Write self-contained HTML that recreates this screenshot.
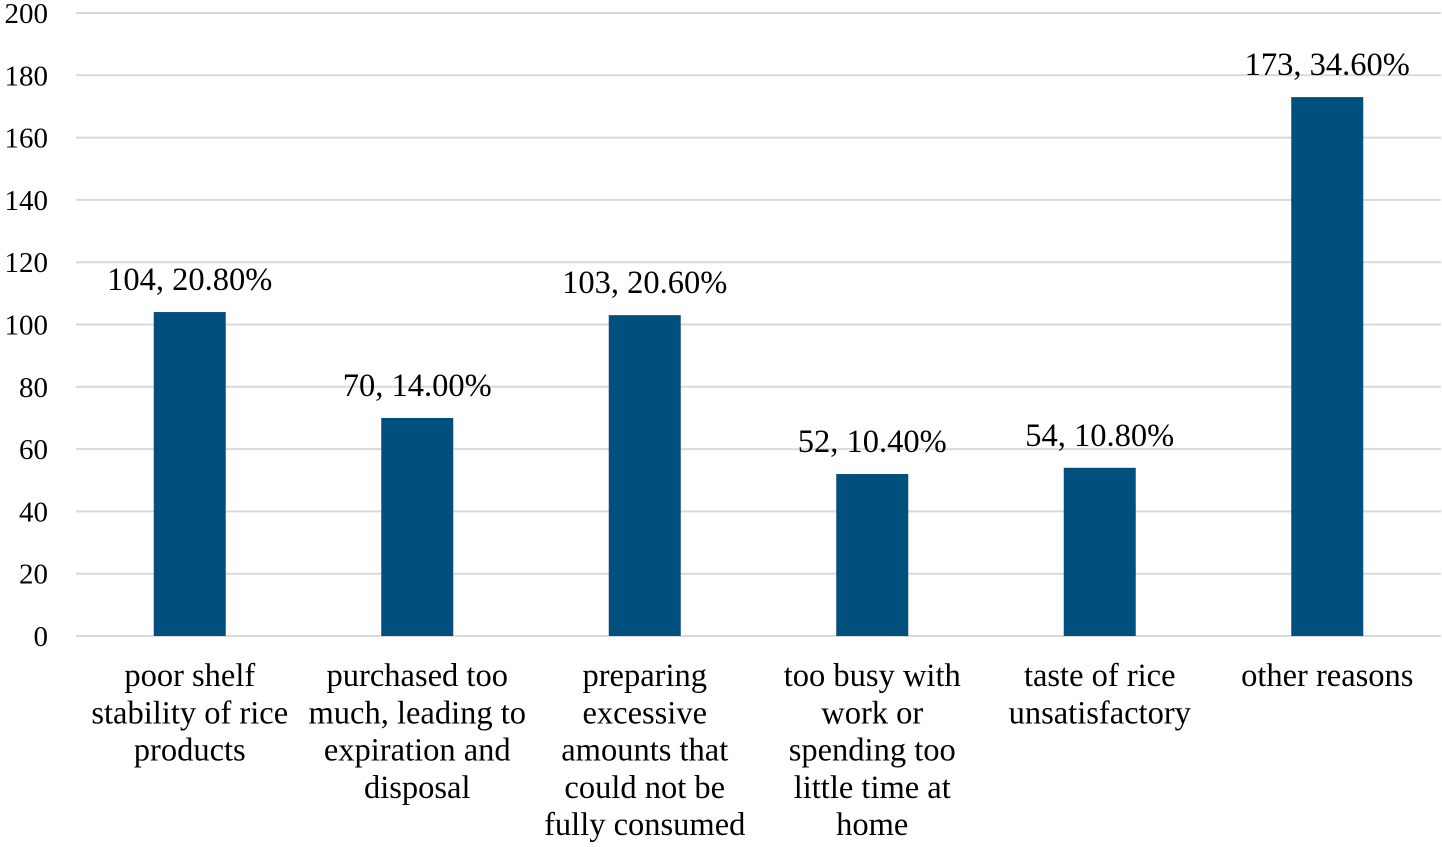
<!DOCTYPE html>
<html><head><meta charset="utf-8"><style>
html,body{margin:0;padding:0;background:#fff;}
svg text{font-family:"Liberation Serif",serif;fill:#000;}
</style></head><body>
<svg id="chart" width="1442" height="842" xmlns="http://www.w3.org/2000/svg"></svg>
<script>
const categories=[["poor shelf","stability of rice","products"],["purchased too","much, leading to","expiration and","disposal"],["preparing","excessive","amounts that","could not be","fully consumed"],["too busy with","work or","spending too","little time at","home"],["taste of rice","unsatisfactory"],["other reasons"]];
const values=[104,70,103,52,54,173];
const valueLabels=["104, 20.80%","70, 14.00%","103, 20.60%","52, 10.40%","54, 10.80%","173, 34.60%"];
const yTicks=[0,20,40,60,80,100,120,140,160,180,200];

const svg=document.getElementById('chart');
const NS='http://www.w3.org/2000/svg';
const x0=76,x1=1441,yBase=636,yTop=13,yMax=200;
const y=v=>yBase-(v/yMax)*(yBase-yTop);
const band=(x1-x0)/categories.length;
const xc=i=>x0+band*(i+0.5);
const barW=72;
function mk(tag,attrs){const e=document.createElementNS(NS,tag);for(const k in attrs)e.setAttribute(k,attrs[k]);svg.appendChild(e);return e;}
yTicks.forEach(t=>{
  const g=mk('line',{x1:x0,x2:x1,y1:y(t),y2:y(t),stroke:'#d9d9d9','stroke-width':2});
  
  
  const l=mk('text',{x:48,y:y(t)+10,'text-anchor':'end','font-size':29});
  l.textContent=t;
  
  
});
values.forEach((v,i)=>{
  const b=mk('rect',{x:xc(i)-barW/2,y:y(v),width:barW,height:yBase-y(v),fill:'#004f7c'});
  
  
  const t=mk('text',{x:xc(i),y:y(v)-22,'text-anchor':'middle','font-size':32.5});
  t.textContent=valueLabels[i];
  
  
  categories[i].forEach((line,j)=>{
    const c=mk('text',{x:xc(i),y:686+j*37.3,'text-anchor':'middle','font-size':32.5});
    c.textContent=line;
    
    
  });
});
</script>
</body></html>
